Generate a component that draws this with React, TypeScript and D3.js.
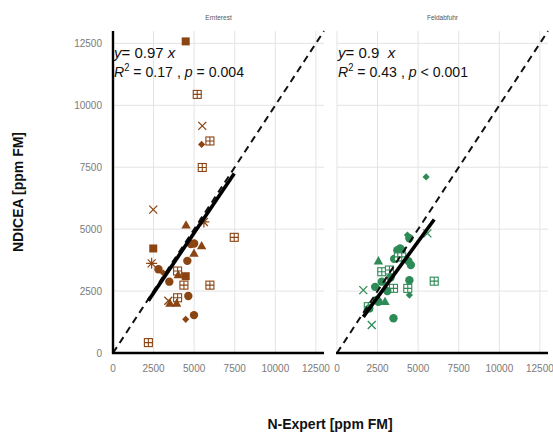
import * as d3 from "d3";

// shape codes: sq = filled square, gs = square with plus, x = cross, a = asterisk,
// d = diamond, c = circle, t = triangle
const ernteX = [4480, 5190, 5500, 5460, 5970, 5500, 2480, 4500, 5600, 7470, 2480, 4800, 5000, 5460, 4990, 4580, 2380, 2800, 3100, 3980, 4480, 4020, 3470, 4370, 5970, 4640, 3980, 3510, 3410, 3920, 4990, 4480, 2180];
const ernteY = [12580, 10440, 9170, 8420, 8560, 7490, 5790, 5160, 5290, 4670, 4220, 4400, 4420, 4320, 4020, 3720, 3620, 3380, 3230, 3310, 3100, 3150, 2880, 2740, 2740, 2300, 2230, 2000, 2110, 2000, 1530, 1360, 420];
const ernteShape = ["sq", "gs", "x", "d", "gs", "gs", "x", "t", "a", "gs", "sq", "c", "c", "t", "t", "c", "a", "c", "d", "gs", "sq", "t", "c", "gs", "gs", "c", "gs", "t", "x", "t", "c", "d", "gs"];

const feldX = [5490, 5570, 4460, 4340, 3990, 3890, 3720, 3520, 3900, 2550, 2760, 3230, 3780, 4400, 4550, 3990, 4460, 5990, 3480, 4360, 4460, 1620, 2350, 2760, 2960, 2550, 1930, 2140, 3480, 1990, 2450, 3100, 3300];
const feldY = [7110, 4830, 4630, 4760, 4150, 4220, 4150, 3800, 4000, 3710, 3280, 3350, 3880, 3710, 3550, 3880, 2940, 2900, 2610, 2610, 2340, 2540, 2670, 2880, 2070, 2070, 1870, 1130, 1400, 1800, 2140, 2500, 3050];
const feldShape = ["d", "x", "c", "d", "c", "c", "c", "c", "c", "t", "gs", "gs", "gs", "c", "c", "gs", "c", "gs", "gs", "gs", "d", "x", "c", "c", "t", "c", "gs", "x", "c", "c", "c", "c", "c"];

const panelTitles = ["Ernterest", "Feldabfuhr"];
const slopes = [0.97, 0.9];
const slopeLabels = ["0.97", "0.9 "];
const r2Labels = ["0.17", "0.43"];
const pLabels = ["= 0.004", "< 0.001"];
const panelColors = ["#8B4513", "#2E8B57"];
const ticks = [0, 2500, 5000, 7500, 10000, 12500];

function Marker({ shape, cx, cy, color }: { shape: string; cx: number; cy: number; color: string }) {
  const t = `translate(${cx},${cy})`;
  if (shape === "sq") return <rect x={cx - 4} y={cy - 4} width={8} height={8} fill={color} />;
  if (shape === "c") return <circle cx={cx} cy={cy} r={4.2} fill={color} />;
  if (shape === "t") return <path transform={t} d="M0,-5L4.7,3.3L-4.7,3.3Z" fill={color} />;
  if (shape === "d") return <path transform={t} d="M0,-3.6L3.6,0L0,3.6L-3.6,0Z" fill={color} />;
  if (shape === "x")
    return <path transform={t} d="M-4,-4L4,4M-4,4L4,-4" stroke={color} strokeWidth={1.3} fill="none" />;
  if (shape === "a")
    return (
      <path transform={t} d="M-4,-4L4,4M-4,4L4,-4M0,-5.5L0,5.5M-5.5,0L5.5,0" stroke={color} strokeWidth={1.2} fill="none" />
    );
  return (
    <g transform={t}>
      <rect x={-4} y={-4} width={8} height={8} fill="white" stroke={color} strokeWidth={1.1} />
      <path d="M0,-4L0,4M-4,0L4,0" stroke={color} strokeWidth={1.1} />
    </g>
  );
}

export default function App() {
  const width = 553;
  const height = 434;
  const panelLeft = [113, 337];
  const panelWidth = 211;
  const y = d3.scaleLinear([0, 13000], [353, 31]);
  const panelData = [
    { xs: ernteX, ys: ernteY, shapes: ernteShape },
    { xs: feldX, ys: feldY, shapes: feldShape }
  ];

  return (
    <svg
      width={width}
      height={height}
      viewBox={`0 0 ${width} ${height}`}
      style={{ position: "absolute", left: 0, top: 0, fontFamily: "'Liberation Sans', Arial, sans-serif" }}
    >
      <rect width={width} height={height} fill="white" />
      {panelData.map((panel, pi) => {
        const x = d3.scaleLinear([0, 13000], [panelLeft[pi], panelLeft[pi] + panelWidth]);
        const points = panel.xs.map((v, i) => ({ x: v, y: panel.ys[i], shape: panel.shapes[i] }));
        const [minX, maxX] = d3.extent(panel.xs) as [number, number];
        return (
          <g key={panelTitles[pi]}>
            {ticks.map((tk) => (
              <g key={tk}>
                <line x1={x(tk)} x2={x(tk)} y1={y(13000)} y2={y(0)} stroke="#e3e3e3" strokeWidth={1} />
                <line x1={x(0)} x2={x(13000)} y1={y(tk)} y2={y(tk)} stroke="#e3e3e3" strokeWidth={1} />
              </g>
            ))}
            <text x={(x(0) + x(13000)) / 2} y={20} textAnchor="middle" fontSize={6.5} fill="#555">
              {panelTitles[pi]}
            </text>
            {ticks.map((tk) => (
              <text key={tk} x={x(tk)} y={372} textAnchor="middle" fontSize={10} fill="#7a7a7a">
                {tk}
              </text>
            ))}
            {points.map((p, i) => (
              <Marker key={i} shape={p.shape} cx={x(p.x)} cy={y(p.y)} color={panelColors[pi]} />
            ))}
            <line
              x1={x(0)}
              y1={y(0)}
              x2={x(13000)}
              y2={y(13000)}
              stroke="#111"
              strokeWidth={2}
              strokeDasharray="7 5"
            />
            <line
              x1={x(minX)}
              y1={y(minX * slopes[pi])}
              x2={x(maxX)}
              y2={y(maxX * slopes[pi])}
              stroke="#000"
              strokeWidth={3.6}
            />
            <line x1={x(0) - 1} x2={x(13000)} y1={y(0)} y2={y(0)} stroke="#000" strokeWidth={2.4} />
            {pi === 0 && <line x1={x(0)} x2={x(0)} y1={y(13000)} y2={y(0) + 1} stroke="#000" strokeWidth={2.4} />}
            <text x={x(0) + 1} y={58} fontSize={15} fill="#111" xmlSpace="preserve">
              <tspan fontStyle="italic">y</tspan>
              {`= ${slopeLabels[pi]} `}
              <tspan fontStyle="italic">x</tspan>
            </text>
            <text x={x(0) + 1} y={77} fontSize={15} fill="#111" textLength={130} lengthAdjust="spacingAndGlyphs">
              <tspan fontStyle="italic">R</tspan>
              <tspan dy={-6} fontSize={10}>2</tspan>
              <tspan dy={6}>{` = ${r2Labels[pi]} , `}</tspan>
              <tspan fontStyle="italic">p</tspan>
              {` ${pLabels[pi]}`}
            </text>
          </g>
        );
      })}
      {ticks.map((tk) => (
        <text key={tk} x={102} y={y(tk) + 3.5} textAnchor="end" fontSize={10} fill="#7a7a7a">
          {tk}
        </text>
      ))}
      <text
        transform={`translate(23,${y(6500)}) rotate(-90)`}
        textAnchor="middle"
        fontSize={14}
        fontWeight="bold"
        fill="#111"
      >
        NDICEA [ppm FM]
      </text>
      <text x={330} y={429} textAnchor="middle" fontSize={14} fontWeight="bold" fill="#111">
        N-Expert [ppm FM]
      </text>
    </svg>
  );
}
